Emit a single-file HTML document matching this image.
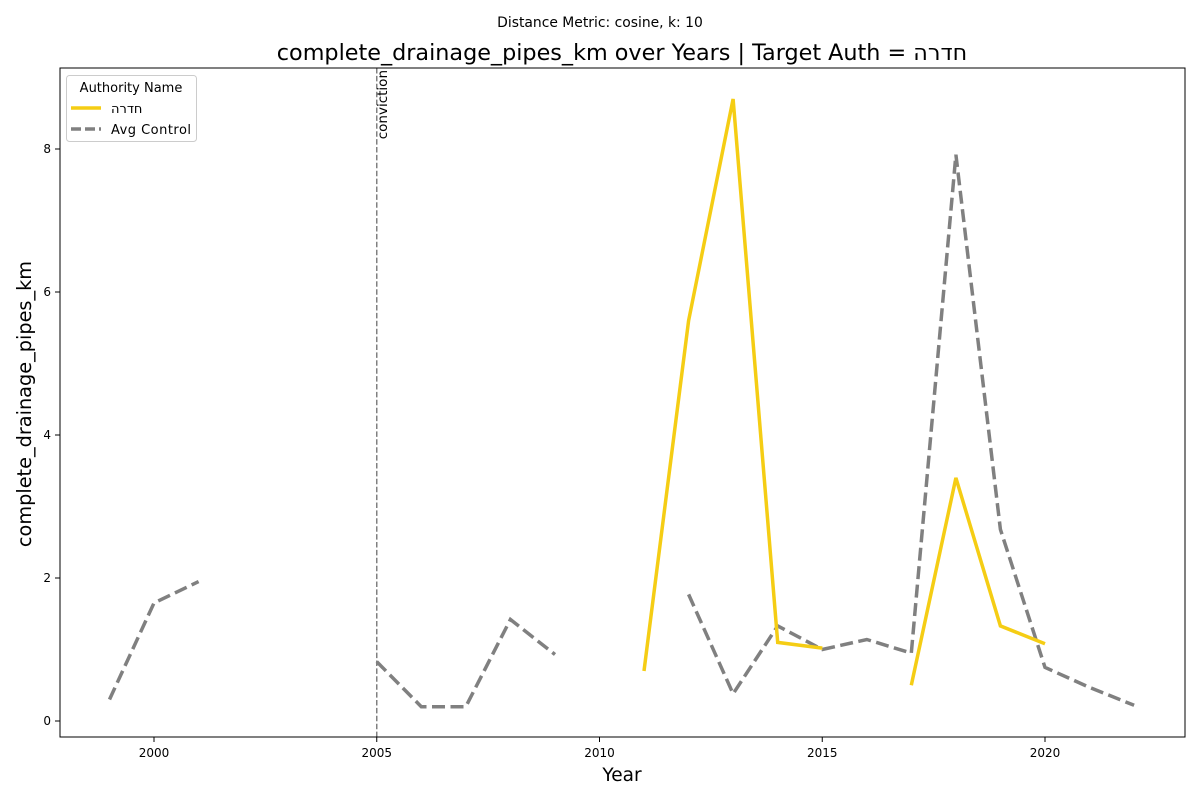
<!DOCTYPE html>
<html><head><meta charset="utf-8"><style>
body{margin:0;background:#fff;font-family:"DejaVu Sans","Liberation Sans",sans-serif}
svg text{font-family:"DejaVu Sans","Liberation Sans",sans-serif}
</style></head><body>
<svg id="chart" width="1200" height="800" xmlns="http://www.w3.org/2000/svg"></svg>
<script>
const years=[1999,2000,2001,2002,2003,2004,2005,2006,2007,2008,2009,2010,2011,2012,2013,2014,2015,2016,2017,2018,2019,2020,2021,2022];
const targetValues=[null,null,null,null,null,null,null,null,null,null,null,null,0.7,5.6,8.7,1.1,1.02,null,0.5,3.4,1.33,1.08,null,null];
const controlValues=[0.3,1.65,1.95,null,null,null,0.83,0.2,0.2,1.42,0.93,null,null,1.77,0.38,1.33,1.0,1.14,0.95,7.92,2.68,0.75,0.47,0.22];
const xTicks=[2000,2005,2010,2015,2020];
const yTicks=[0,2,4,6,8];
const eventYear=2005;
const L=60,R=1185,T=68,B=737;
const x=v=>154+(v-2000)*44.55;
const y=v=>721-v*71.5;
const svg=document.getElementById('chart');
const NS='http://www.w3.org/2000/svg';
function mk(tag,attrs,parent){const e=document.createElementNS(NS,tag);for(const k in attrs)e.setAttribute(k,attrs[k]);(parent||svg).appendChild(e);return e;}
let t=mk('text',{x:600,y:27,'text-anchor':'middle','font-size':13.9});t.textContent='Distance Metric: cosine, k: 10';

t=mk('text',{x:622,y:60,'text-anchor':'middle','font-size':22.3});t.textContent='complete_drainage_pipes_km over Years | Target Auth = חדרה';

xTicks.forEach(v=>{const g=mk('g',{});
mk('line',{x1:x(v),x2:x(v),y1:B,y2:B+5,stroke:'#000'},g);const tt=mk('text',{x:x(v),y:B+20,'text-anchor':'middle','font-size':12},g);tt.textContent=v;});
yTicks.forEach(v=>{const g=mk('g',{});
mk('line',{x1:L-5,x2:L,y1:y(v),y2:y(v),stroke:'#000'},g);const tt=mk('text',{x:L-9,y:y(v)+4,'text-anchor':'end','font-size':12},g);tt.textContent=v;});
t=mk('text',{x:622,y:781,'text-anchor':'middle','font-size':18.5});t.textContent='Year';

t=mk('text',{x:31,y:404,'text-anchor':'middle','font-size':19.3,transform:'rotate(-90 31 404)'});t.textContent='complete_drainage_pipes_km';

const ev=mk('line',{x1:x(eventYear),x2:x(eventYear),y1:T,y2:B,stroke:'#808080','stroke-width':1.5,'stroke-dasharray':'5.5,2.4'});

t=mk('text',{x:0,y:0,'font-size':13.5,transform:`translate(${x(eventYear)+10},70) rotate(-90)`,'text-anchor':'end'});t.textContent='conviction';

function series(vals,color,dash,name){let d='',pen=false;
vals.forEach((v,i)=>{if(v==null){pen=false;return;}d+=(pen?'L':'M')+x(years[i]).toFixed(1)+','+y(v).toFixed(1);pen=true;});
const p=mk('path',{d:d,fill:'none',stroke:color,'stroke-width':3.5,'stroke-dasharray':dash});
}
series(controlValues,'#808080','13,5.5','avg-control-line');
series(targetValues,'#f5cd14','none','target-line');
const fr=mk('rect',{x:L,y:T,width:R-L,height:B-T,fill:'none',stroke:'#000','stroke-width':1});

const lg=mk('g',{});
mk('rect',{x:66.5,y:75.5,width:130,height:66,rx:3,fill:'#fff',stroke:'#ccc'},lg);
t=mk('text',{x:131,y:92,'text-anchor':'middle','font-size':13},lg);t.textContent='Authority Name';
const e1=mk('g',{},lg);
mk('line',{x1:71,x2:101,y1:108,y2:108,stroke:'#f5cd14','stroke-width':3.5},e1);
t=mk('text',{x:111,y:113,'font-size':13},e1);t.textContent='חדרה';
const e2=mk('g',{},lg);
mk('line',{x1:71,x2:101,y1:129,y2:129,stroke:'#808080','stroke-width':3.5,'stroke-dasharray':'10,4'},e2);
t=mk('text',{x:111,y:134,'font-size':13,textLength:80},e2);t.textContent='Avg Control';
</script>
</body></html>
